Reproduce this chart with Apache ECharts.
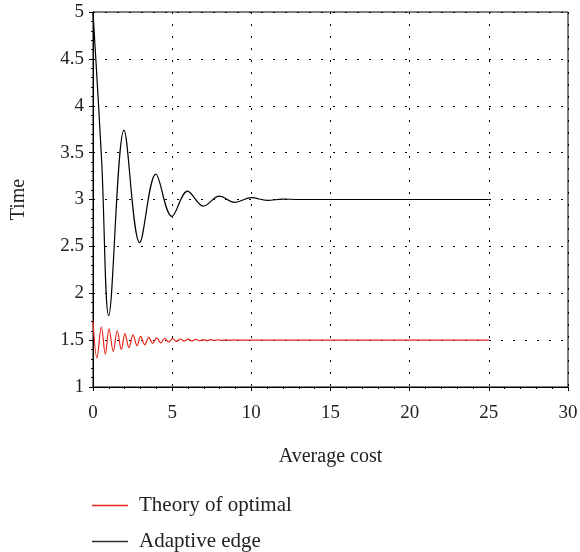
<!DOCTYPE html>
<html>
<head>
<meta charset="utf-8">
<script src="https://cdn.jsdelivr.net/npm/echarts@6/dist/echarts.min.js"></script>
<style>
  html, body { margin: 0; padding: 0; background: #fff; }
  #chart { width: 580px; height: 552px; }
</style>
</head>
<body>
<div id="chart"></div>
<script>
// values: [average cost, time], turning points of each curve
var seriesNames = ["Theory of optimal", "Adaptive edge"];

var adaptiveEdge = [
  [0, 5], [0.55, 3.4], [0.99, 1.76], [1.96, 3.74], [2.95, 2.54],
  [3.97, 3.27], [4.98, 2.82], [5.97, 3.09], [6.97, 2.93], [7.98, 3.035],
  [8.95, 2.97], [10.0, 3.02], [11.0, 2.99], [12.0, 3.005], [13.0, 3.0],
  [25, 3.0]
];

var theoryOfOptimal = [
  [0, 1.70], [0.25, 1.31], [0.53, 1.64], [0.78, 1.35], [1.01, 1.62],
  [1.28, 1.38], [1.53, 1.60], [1.79, 1.40], [2.02, 1.57], [2.27, 1.42],
  [2.53, 1.555], [2.78, 1.44], [3.01, 1.54], [3.27, 1.45], [3.52, 1.53],
  [3.77, 1.465], [4.02, 1.525], [4.28, 1.47], [4.53, 1.52], [4.78, 1.48],
  [5.03, 1.515], [5.28, 1.486], [5.52, 1.512], [5.76, 1.489], [6.0, 1.51],
  [6.24, 1.491], [6.48, 1.508], [6.72, 1.493], [6.96, 1.506], [7.2, 1.495],
  [7.44, 1.505], [7.68, 1.496], [7.92, 1.504], [8.16, 1.497], [8.4, 1.503],
  [8.64, 1.498], [8.9, 1.502], [9.2, 1.5], [25, 1.5]
];

var xTicks = [0, 5, 10, 15, 20, 25, 30];
var yTicks = [1, 1.5, 2, 2.5, 3, 3.5, 4, 4.5, 5];

var chart = echarts.init(document.getElementById("chart"));
var serif = "Liberation Serif";
var fs = 19;

function legendAt(name, top) {
  return {
    data: [name],
    left: 92, top: top, padding: 0,
    itemWidth: 36, itemHeight: 1.5,
    icon: "rect",
    textStyle: { fontFamily: serif, fontSize: 21, color: "#222", padding: [0, 0, 0, 6] }
  };
}

var option = {
  animation: false,
  grid: {
    left: 93, right: 12, top: 12, bottom: 165,
    outerBoundsMode: "none",
    show: true, borderColor: "#000", borderWidth: 1
  },
  legend: [legendAt(seriesNames[0], 495), legendAt(seriesNames[1], 531)],
  xAxis: {
    type: "value",
    min: xTicks[0], max: xTicks[xTicks.length - 1], interval: 5,
    name: "Average cost",
    nameLocation: "middle", nameGap: 60,
    nameTextStyle: { fontFamily: serif, fontSize: 20, color: "#222" },
    axisLine: { lineStyle: { color: "#000", width: 1 } },
    axisTick: { inside: false, length: 4, lineStyle: { color: "#000" } },
    minorTick: { show: true, splitNumber: 5, length: 2, lineStyle: { color: "#000" } },
    axisLabel: { fontFamily: serif, fontSize: fs, color: "#222", margin: 17 },
    splitLine: { show: true, lineStyle: { color: "#000", type: [2, 10], width: 1 } }
  },
  yAxis: {
    type: "value",
    min: yTicks[0], max: yTicks[yTicks.length - 1], interval: 0.5,
    name: "Time",
    nameLocation: "middle", nameGap: 64, nameRotate: 90,
    nameTextStyle: { fontFamily: serif, fontSize: 20, color: "#222" },
    axisLine: { show: true, lineStyle: { color: "#000", width: 1 } },
    axisTick: { show: true, inside: false, length: 4, lineStyle: { color: "#000" } },
    minorTick: { show: true, splitNumber: 5, length: 2, lineStyle: { color: "#000" } },
    axisLabel: { fontFamily: serif, fontSize: fs, color: "#222", margin: 9 },
    splitLine: { show: true, lineStyle: { color: "#000", type: [2, 10], width: 1 } }
  },
  series: [
    {
      name: seriesNames[0],
      type: "line",
      data: theoryOfOptimal,
      smooth: 0.36,
      symbol: "none",
      lineStyle: { color: "#e5281b", width: 1.2 },
      itemStyle: { color: "#e5281b" }
    },
    {
      name: seriesNames[1],
      type: "line",
      data: adaptiveEdge,
      smooth: 0.36,
      symbol: "none",
      lineStyle: { color: "#000", width: 1.2 },
      itemStyle: { color: "#333" }
    }
  ]
};
chart.setOption(option);
</script>
</body>
</html>
